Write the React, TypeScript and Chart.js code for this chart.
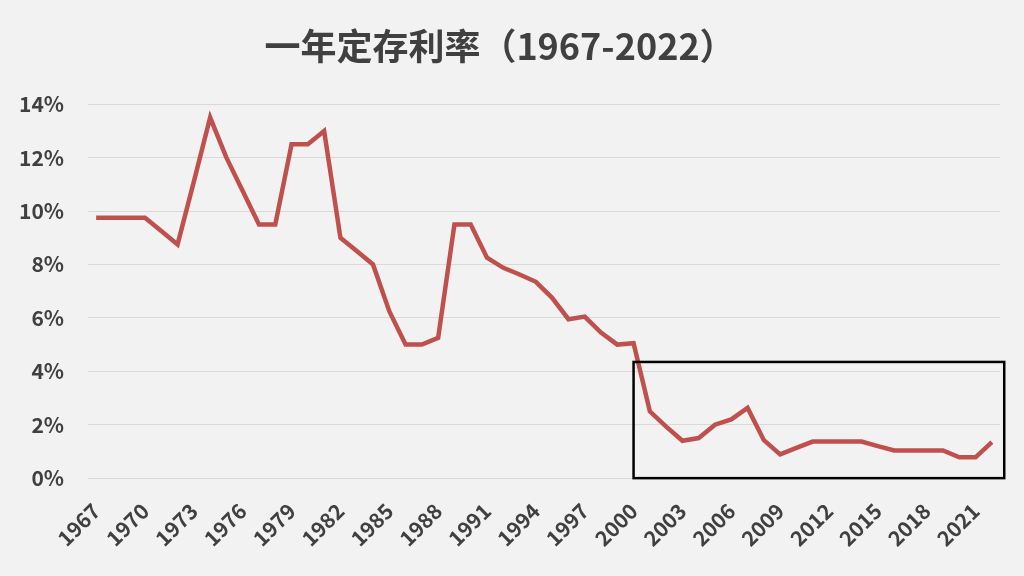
import React, { useEffect, useRef } from "react";
import { Chart, registerables } from "chart.js";

Chart.register(...registerables);

const TITLE = "一年定存利率（1967-2022）";

const years: string[] = [
  "1967", "1968", "1969", "1970", "1971", "1972", "1973", "1974", "1975", "1976",
  "1977", "1978", "1979", "1980", "1981", "1982", "1983", "1984", "1985", "1986",
  "1987", "1988", "1989", "1990", "1991", "1992", "1993", "1994", "1995", "1996",
  "1997", "1998", "1999", "2000", "2001", "2002", "2003", "2004", "2005", "2006",
  "2007", "2008", "2009", "2010", "2011", "2012", "2013", "2014", "2015", "2016",
  "2017", "2018", "2019", "2020", "2021", "2022",
];

const rates: number[] = [
  9.75, 9.75, 9.75, 9.75, 9.25, 8.75, 11.1, 13.5, 12.0, 10.75,
  9.5, 9.5, 12.5, 12.5, 13.0, 9.0, 8.5, 8.0, 6.25, 5.0,
  5.0, 5.25, 9.5, 9.5, 8.25, 7.875, 7.625, 7.35, 6.75, 5.95,
  6.05, 5.45, 5.0, 5.05, 2.5, 1.93, 1.4, 1.5, 2.0, 2.2,
  2.63, 1.42, 0.89, 1.13, 1.37, 1.37, 1.37, 1.37, 1.2, 1.035,
  1.035, 1.035, 1.035, 0.78, 0.78, 1.35,
];

const yTicks: number[] = [0, 2, 4, 6, 8, 10, 12, 14];

// highlight box: from the year 2000 to a bit past the last year, 0% to ~4.35%
const boxStartYear = "2000";
const boxEndIndexExtra = 0.76;
const boxTop = 4.35;
const boxBottom = 0;

const FONT = "'Noto Sans CJK TC', 'Noto Sans', sans-serif";
const TEXT = "#404040";

const boxPlugin = {
  id: "highlightBox",
  afterDatasetsDraw(chart: any) {
    const xs = chart.scales.x;
    const ys = chart.scales.y;
    const ctx = chart.ctx;
    const x0 = xs.getPixelForValue(years.indexOf(boxStartYear));
    const x1 = xs.getPixelForValue(years.length - 1 + boxEndIndexExtra);
    const y0 = ys.getPixelForValue(boxTop);
    const y1 = ys.getPixelForValue(boxBottom);
    ctx.save();
    ctx.strokeStyle = "#000000";
    ctx.lineWidth = 2.5;
    ctx.strokeRect(x0, y0, x1 - x0, y1 - y0);
    ctx.restore();
  },
};

export default function App() {
  const ref = useRef<HTMLCanvasElement | null>(null);

  useEffect(() => {
    document.body.style.margin = "0";
    if (!ref.current) return;
    const chart = new Chart(ref.current, {
      type: "line",
      data: {
        labels: years,
        datasets: [
          {
            data: rates,
            borderColor: "#c0504d",
            backgroundColor: "#c0504d",
            borderWidth: 4.5,
            pointRadius: 0,
            tension: 0,
          },
        ],
      },
      options: {
        animation: false,
        responsive: false,
        devicePixelRatio: 1,
        layout: { padding: { left: 0, right: 24, top: 0, bottom: 13 } },
        plugins: {
          legend: { display: false },
          tooltip: { enabled: false },
          title: {
            display: true,
            text: TITLE,
            color: TEXT,
            font: { family: FONT, size: 36, weight: "bold" },
            padding: { top: 25, bottom: 36 },
          },
        },
        scales: {
          x: {
            offset: true,
            grid: { display: false },
            border: { display: false },
            afterFit: (axis: any) => {
              axis.paddingLeft = 0;
              axis.paddingRight = 0;
            },
            ticks: {
              autoSkip: false,
              maxRotation: 45,
              minRotation: 45,
              padding: 12,
              color: TEXT,
              font: { family: FONT, size: 21, weight: "bold" },
              callback: (_v: any, i: number) => (i % 3 === 0 ? years[i] : ""),
            },
          },
          y: {
            min: 0,
            max: 14,
            afterBuildTicks: (axis: any) => {
              axis.ticks = yTicks.map((v) => ({ value: v }));
            },
            afterFit: (axis: any) => {
              axis.width = 88;
            },
            grid: { color: "#d9d9d9", lineWidth: 1, drawTicks: false },
            border: { display: false },
            ticks: {
              padding: 24,
              color: TEXT,
              font: { family: FONT, size: 21, weight: "bold" },
              callback: (v: any) => `${v}%`,
            },
          },
        },
      },
      plugins: [boxPlugin],
    });
    return () => chart.destroy();
  }, []);

  return (
    <div style={{ width: 1024, height: 576, background: "#f2f2f2" }}>
      <canvas ref={ref} width={1024} height={576} style={{ display: "block" }} />
    </div>
  );
}
